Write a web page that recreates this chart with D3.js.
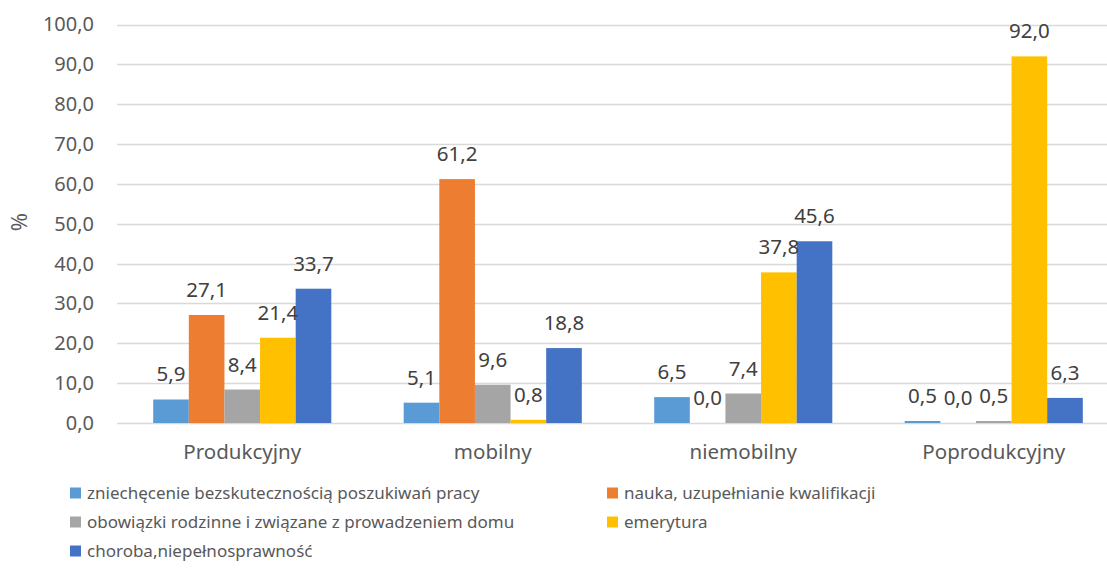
<!DOCTYPE html>
<html>
<head>
<meta charset="utf-8">
<script src="https://cdn.jsdelivr.net/npm/d3@7"></script>
<style>
  body { margin: 0; background: #fff; }
  svg { font-family: "Noto Sans", "Open Sans", sans-serif; }
</style>
</head>
<body>
<script>
// data
var categories = ["Produkcyjny", "mobilny", "niemobilny", "Poprodukcyjny"];
var seriesNames = [
    "zniechęcenie bezskutecznością poszukiwań pracy",
    "nauka, uzupełnianie kwalifikacji",
    "obowiązki rodzinne i związane z prowadzeniem domu",
    "emerytura",
    "choroba,niepełnosprawność"
];
var zniechecenie = [5.9, 5.1, 6.5, 0.5];
var nauka = [27.1, 61.2, 0.0, 0.0];
var obowiazki = [8.4, 9.6, 7.4, 0.5];
var emerytura = [21.4, 0.8, 37.8, 92.0];
var choroba = [33.7, 18.8, 45.6, 6.3];
var yTicks = [0, 10, 20, 30, 40, 50, 60, 70, 80, 90, 100];

var colors = ["#5B9BD5", "#ED7D31", "#A5A5A5", "#FFC000", "#4472C4"];
var allSeries = [zniechecenie, nauka, obowiazki, emerytura, choroba];

var width = 1107, height = 569;
var svg = d3.select("body").append("svg")
    .attr("width", width)
    .attr("height", height);

// scales
var x0 = d3.scaleBand().domain(categories).range([117, 1119]).padding(0);
var groupW = x0.bandwidth() * 0.711;
var x1 = d3.scaleBand().domain(d3.range(seriesNames.length)).range([0, groupW]);
var y = d3.scaleLinear().domain([0, 100]).range([423, 24.5]);

var fmt = function(v) { return d3.format(".1f")(v).replace(".", ","); };

// gridlines
svg.append("g").selectAll("line")
    .data(yTicks)
    .enter().append("line")
    .attr("x1", 117).attr("x2", 1119)
    .attr("y1", function(d) { return Math.round(y(d)) + 0.5; })
    .attr("y2", function(d) { return Math.round(y(d)) + 0.5; })
    .attr("stroke", "#D9D9D9")
    .attr("stroke-width", 1.3);

// y axis labels
var yAxis = svg.append("g")
    .attr("transform", "translate(94,0)")
    .call(d3.axisLeft(y).tickValues(yTicks).tickFormat(fmt).tickSize(0).tickPadding(0));
yAxis.select(".domain").remove();
yAxis.selectAll("text")
    .attr("font-size", "20px")
    .attr("font-family", "'Noto Sans', sans-serif")
    .attr("fill", "#595959");

svg.append("text")
    .attr("transform", "translate(27,222) rotate(-90)")
    .attr("text-anchor", "middle")
    .attr("font-size", "22px")
    .attr("fill", "#595959")
    .text("%");

// bars
var rows = [];
categories.forEach(function(c, ci) {
    allSeries.forEach(function(s, si) {
        rows.push({cat: c, si: si, value: s[ci]});
    });
});

var offset = (x0.bandwidth() - groupW) / 2;

svg.append("g").selectAll("rect")
    .data(rows)
    .enter().append("rect")
    .attr("x", function(d) { return x0(d.cat) + offset + x1(d.si); })
    .attr("y", function(d) { return y(d.value); })
    .attr("width", x1.bandwidth())
    .attr("height", function(d) { return y(0) - y(d.value); })
    .attr("fill", function(d) { return colors[d.si]; });

// value labels
svg.append("g").selectAll("text")
    .data(rows)
    .enter().append("text")
    .attr("x", function(d) { return x0(d.cat) + offset + x1(d.si) + x1.bandwidth() / 2; })
    .attr("y", function(d) { return y(d.value) - 18; })
    .attr("text-anchor", "middle")
    .attr("font-size", "20.5px")
    .attr("fill", "#404040")
    .text(function(d) { return fmt(d.value); });

// x axis labels
var xAxis = svg.append("g")
    .attr("transform", "translate(0," + 444 + ")")
    .call(d3.axisBottom(x0).tickSize(0).tickPadding(0));
xAxis.select(".domain").remove();
xAxis.selectAll("text")
    .attr("font-size", "20.5px")
    .attr("font-family", "'Noto Sans', sans-serif")
    .attr("fill", "#595959");

// legend
var legendPos = [[70, 493], [607, 493], [70, 522], [607, 522], [70, 551]];
var legend = svg.append("g").selectAll("g")
    .data(seriesNames)
    .enter().append("g")
    .attr("transform", function(d, i) { return "translate(" + legendPos[i][0] + "," + legendPos[i][1] + ")"; });
legend.append("rect")
    .attr("x", 0).attr("y", -5.5)
    .attr("width", 11).attr("height", 11)
    .attr("fill", function(d, i) { return colors[i]; });
legend.append("text")
    .attr("x", 17)
    .attr("dy", "0.35em")
    .attr("font-size", "17px")
    .attr("fill", "#595959")
    .text(function(d) { return d; });
</script>
</body>
</html>
